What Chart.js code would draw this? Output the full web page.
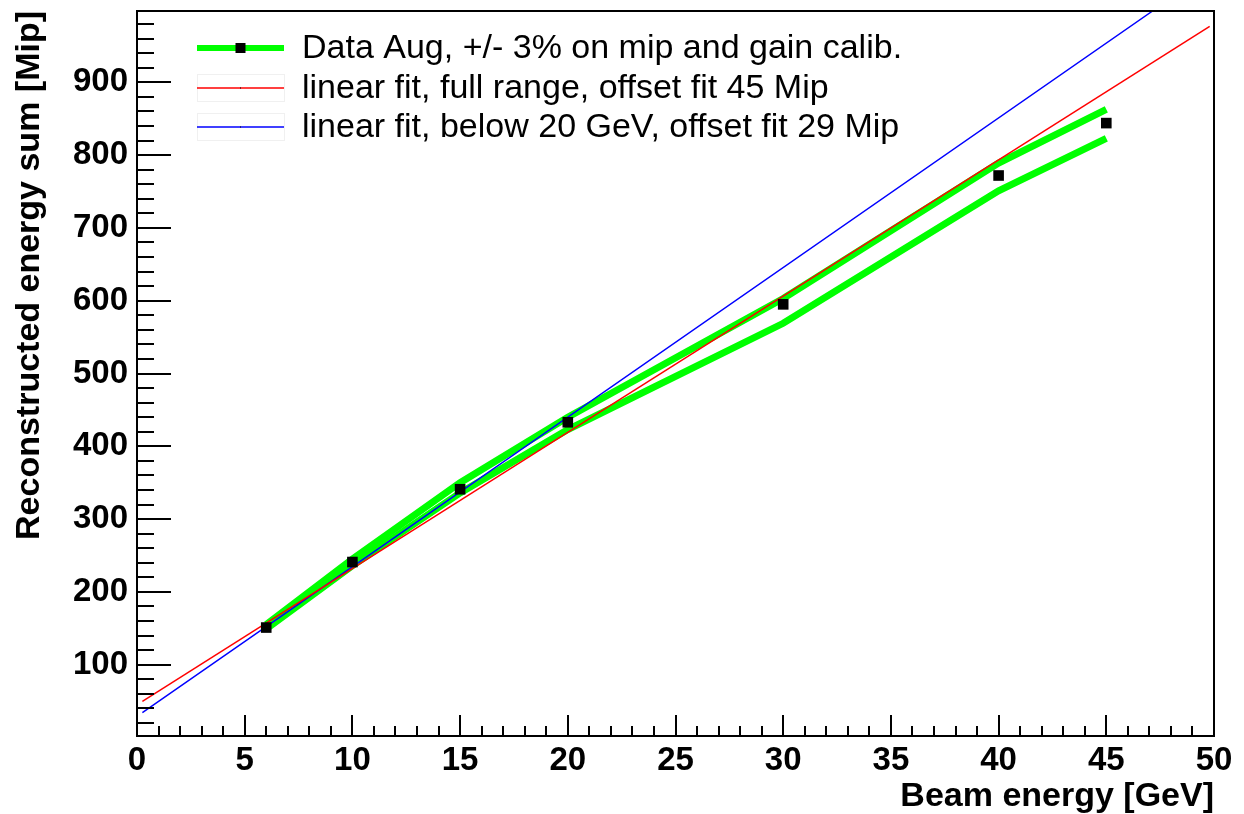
<!DOCTYPE html>
<html>
<head>
<meta charset="utf-8">
<title>Reconstructed energy sum vs beam energy</title>
<script src="https://cdn.jsdelivr.net/npm/chart.js@4.4.1/dist/chart.umd.min.js"></script>
<style>
    html, body { margin: 0; padding: 0; background: #ffffff; }
    #wrap { width: 1244px; height: 814px; position: relative; }
</style>
</head>
<body>
<div id="wrap"><canvas id="energyChart"></canvas></div>
<script>
// beam energies of the runs [GeV] and reconstructed sums [Mip]
const beamEnergy = [6, 10, 15, 20, 30, 40, 45];
const recoSum = [151, 241, 341, 433, 595, 772, 844];
// +/- 3% variation on mip and gain calibration
const recoSumUp = [155, 245, 350, 440, 603, 789, 863];
const recoSumDown = [149, 236, 336, 423, 569, 751, 823];

// linear fits, end points of the drawn curves
const fitFullE = [0.25, 49.8];
const fitFullSum = [49.7, 977];
const fitLowE = [0.25, 47.15, 47.85];
const fitLowSum = [34, 998, 998];

// axis ticks
const xTicks = [0, 5, 10, 15, 20, 25, 30, 35, 40, 45, 50];
const xMinorTicks = [1, 2, 3, 4, 6, 7, 8, 9, 11, 12, 13, 14, 16, 17, 18, 19, 21, 22, 23, 24, 26, 27, 28, 29,
    31, 32, 33, 34, 36, 37, 38, 39, 41, 42, 43, 44, 46, 47, 48, 49];
const yTicks = [100, 200, 300, 400, 500, 600, 700, 800, 900];
const yMinorTicks = [20, 40, 60, 80, 120, 140, 160, 180, 220, 240, 260, 280, 320, 340, 360, 380, 420, 440, 460, 480,
    520, 540, 560, 580, 620, 640, 660, 680, 720, 740, 760, 780, 820, 840, 860, 880, 920, 940, 960, 980];

const legendLabels = [
    'Data Aug, +/- 3% on mip and gain calib.',
    'linear fit, full range, offset fit 45 Mip',
    'linear fit, below 20 GeV, offset fit 29 Mip'
];

const FONT = "'Liberation Sans', Arial, Helvetica, sans-serif";
const GREEN = '#00ff00';
const RED = '#ff0000';
const BLUE = '#0000ff';

function points(xs, ys) {
    return xs.map((x, i) => ({ x: x, y: ys[i] }));
}

// frame, inward ROOT style ticks and the legend box
const frameTicks = {
    id: 'frameTicks',
    afterDraw(chart) {
        const ctx = chart.ctx;
        const a = chart.chartArea;
        const xs = chart.scales.x;
        const ys = chart.scales.y;
        ctx.save();
        ctx.strokeStyle = '#000';
        ctx.lineWidth = 2;
        ctx.beginPath();
        xTicks.forEach(v => {
            const px = Math.round(xs.getPixelForValue(v));
            ctx.moveTo(px, a.bottom);
            ctx.lineTo(px, a.bottom - 21);
        });
        xMinorTicks.forEach(v => {
            const px = Math.round(xs.getPixelForValue(v));
            ctx.moveTo(px, a.bottom);
            ctx.lineTo(px, a.bottom - 10);
        });
        yTicks.forEach(v => {
            const py = Math.round(ys.getPixelForValue(v));
            ctx.moveTo(a.left, py);
            ctx.lineTo(a.left + 34, py);
        });
        yMinorTicks.forEach(v => {
            const py = Math.round(ys.getPixelForValue(v));
            ctx.moveTo(a.left, py);
            ctx.lineTo(a.left + 17, py);
        });
        ctx.stroke();
        ctx.strokeRect(a.left, a.top, a.right - a.left, a.bottom - a.top);

        // legend
        const lx0 = a.left + 60, lx1 = a.left + 147, tx = a.left + 165;
        const rows = [a.top + 37, a.top + 77, a.top + 116];
        ctx.font = '34px ' + FONT;
        ctx.textBaseline = 'middle';
        ctx.fillStyle = '#000';
        rows.forEach((ry, i) => {
            const ds = chart.data.datasets[i === 0 ? 3 : i];
            if (i > 0) {
                ctx.strokeStyle = '#f0f0f0';
                ctx.lineWidth = 1;
                ctx.strokeRect(lx0 + 0.5, ry - 13.5, lx1 - lx0, 27);
            }
            ctx.strokeStyle = ds.borderColor;
            ctx.lineWidth = i === 0 ? 6 : ds.borderWidth;
            ctx.beginPath();
            ctx.moveTo(lx0, ry);
            ctx.lineTo(lx1, ry);
            ctx.stroke();
            ctx.fillStyle = '#000';
            const mx = (lx0 + lx1) / 2;
            if (i === 0) {
                ctx.fillRect(mx - 5, ry - 5, 10, 10);
            } else {
                ctx.fillRect(mx - 0.5, ry - 0.5, 1, 1);
            }
            ctx.fillText(legendLabels[i], tx, ry + 1);
        });
        ctx.restore();
    }
};

new Chart(document.getElementById('energyChart'), {
    type: 'scatter',
    data: {
        datasets: [
            {
                label: legendLabels[0],
                data: points(beamEnergy, recoSum),
                showLine: false,
                pointStyle: 'rect',
                pointRadius: 7.5,
                pointBackgroundColor: '#000',
                pointBorderWidth: 0
            },
            {
                label: legendLabels[1],
                data: points(fitFullE, fitFullSum),
                showLine: true,
                borderColor: RED,
                borderWidth: 1.5,
                pointRadius: 0
            },
            {
                label: legendLabels[2],
                data: points(fitLowE, fitLowSum),
                showLine: true,
                borderColor: BLUE,
                borderWidth: 1.5,
                pointRadius: 0
            },
            {
                label: 'calib up',
                data: points(beamEnergy, recoSumUp),
                showLine: true,
                borderColor: GREEN,
                borderWidth: 7,
                pointRadius: 0
            },
            {
                label: 'calib down',
                data: points(beamEnergy, recoSumDown),
                showLine: true,
                borderColor: GREEN,
                borderWidth: 7,
                pointRadius: 0
            }
        ]
    },
    options: {
        responsive: true,
        maintainAspectRatio: false,
        animation: false,
        layout: {
            padding: { top: 11, right: 30, left: 0, bottom: 0 }
        },
        plugins: {
            legend: { display: false },
            tooltip: { enabled: false }
        },
        scales: {
            x: {
                type: 'linear',
                min: 0,
                max: 50,
                afterBuildTicks: s => { s.ticks = xTicks.map(v => ({ value: v })); },
                afterFit: s => { s.height = 78; s.paddingLeft = 0; s.paddingRight = 0; },
                grid: { display: false, drawTicks: false },
                border: { display: false },
                ticks: {
                    color: '#000',
                    padding: 5,
                    maxRotation: 0,
                    autoSkip: false,
                    font: { family: FONT, size: 33, weight: 'bold' }
                },
                title: {
                    display: true,
                    text: 'Beam energy [GeV]',
                    align: 'end',
                    color: '#000',
                    padding: 0,
                    font: { family: FONT, size: 34, weight: 'bold', lineHeight: 1.0 }
                }
            },
            y: {
                type: 'linear',
                min: 2,
                max: 998,
                afterBuildTicks: s => { s.ticks = yTicks.map(v => ({ value: v })); },
                afterFit: s => { s.width = 137; s.paddingTop = 0; s.paddingBottom = 0; },
                grid: { display: false, drawTicks: false },
                border: { display: false },
                ticks: {
                    color: '#000',
                    padding: 9,
                    autoSkip: false,
                    font: { family: FONT, size: 33, weight: 'bold' }
                },
                title: {
                    display: true,
                    text: 'Reconstructed energy sum [Mip]',
                    align: 'end',
                    color: '#000',
                    padding: { top: 13, bottom: 0 },
                    font: { family: FONT, size: 34, weight: 'bold', lineHeight: 1.0 }
                }
            }
        }
    },
    plugins: [frameTicks]
});
</script>
</body>
</html>
